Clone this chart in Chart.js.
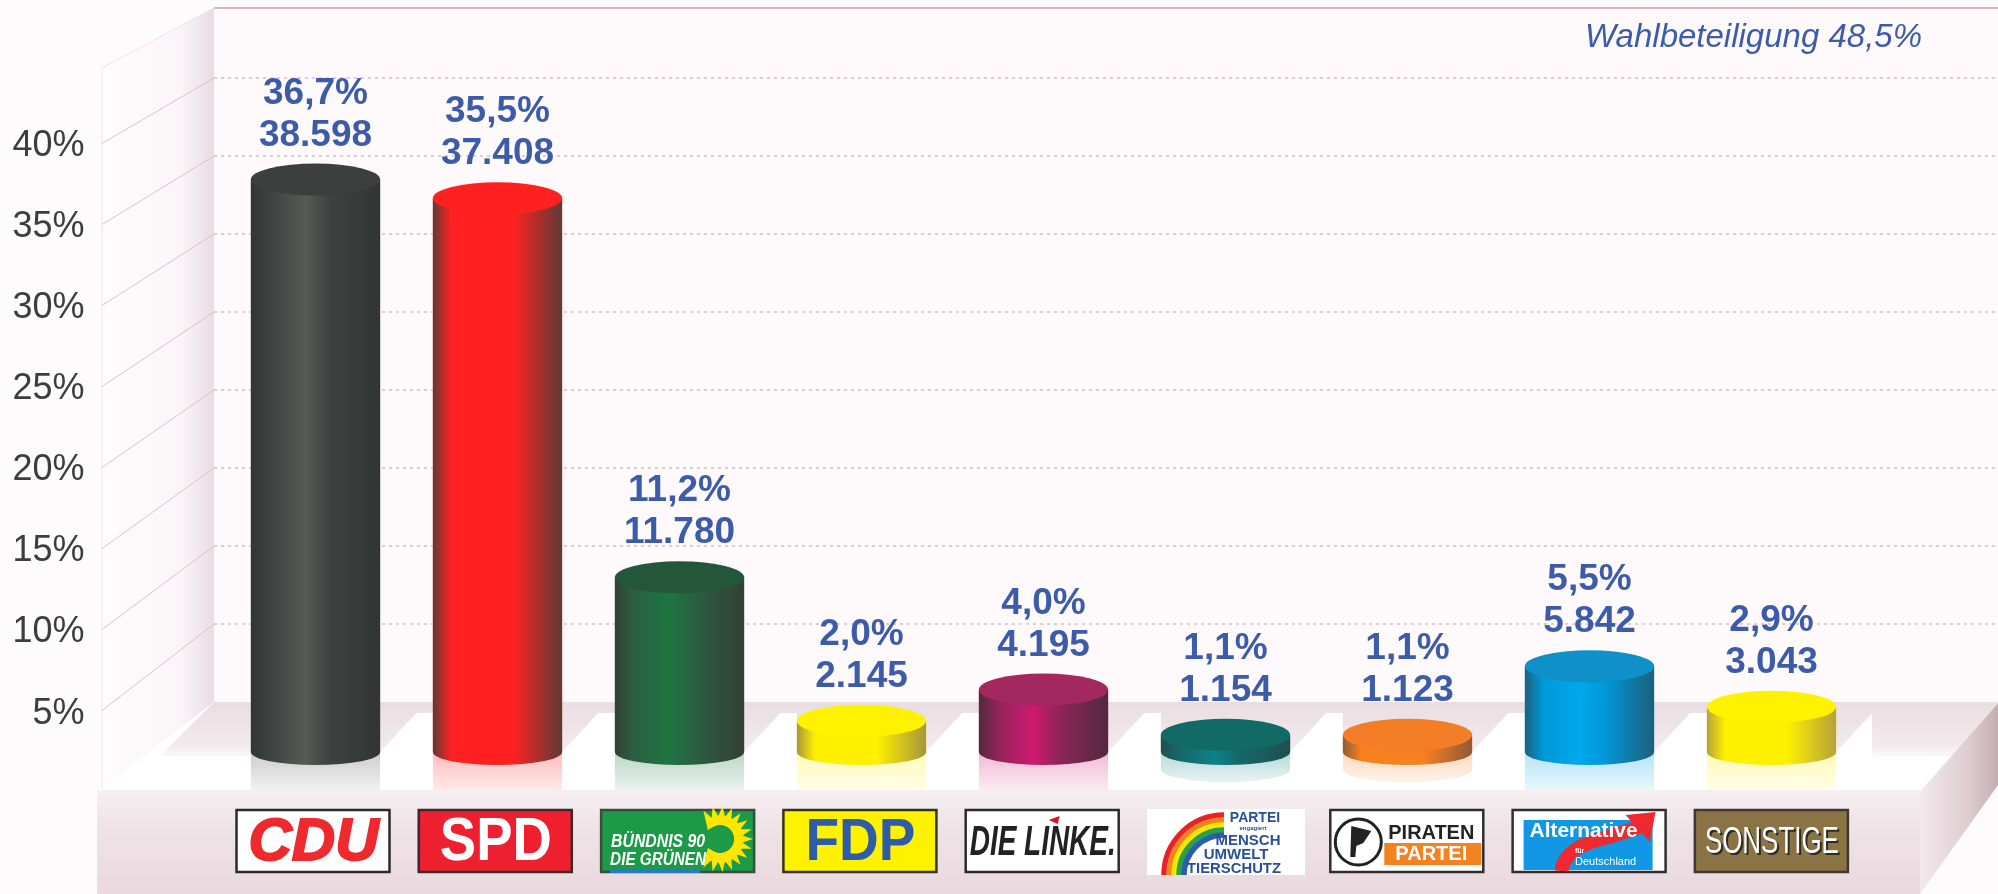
<!DOCTYPE html>
<html lang="de">
<head>
<meta charset="utf-8">
<title>Wahlergebnis</title>
<script src="https://cdn.jsdelivr.net/npm/chart.js@4/dist/chart.umd.min.js"></script>
<style>
html, body { margin: 0; padding: 0; background: #fdfbfc; }
canvas { display: block; }
</style>
</head>
<body>
<canvas id="chart-div" width="1998" height="894"></canvas>
<script>
var parteien = ['CDU', 'SPD', 'GRÜNE', 'FDP', 'DIE LINKE', 'Tierschutz', 'PIRATEN', 'AfD', 'SONSTIGE'];
var anteile = [36.7, 35.5, 11.2, 2.0, 4.0, 1.1, 1.1, 5.5, 2.9];
var stimmen = ['38.598', '37.408', '11.780', '2.145', '4.195', '1.154', '1.123', '5.842', '3.043'];
var yTicks = [5, 10, 15, 20, 25, 30, 35, 40];
var wahlbeteiligung = 'Wahlbeteiligung 48,5%';

// rand, mitte, helle stelle, deckel
var farben = [
    ['#313634', '#565b58', '#3c413f', '#3b3f3d'],
    ['#5f3a36', '#ff1f1f', '#ff2222', '#ff2020'],
    ['#343f38', '#1e7541', '#2a5f41', '#24573a'],
    ['#a8963a', '#fff000', '#fff000', '#fff200'],
    ['#512a3e', '#cf1a70', '#8f2458', '#a2285f'],
    ['#1f4f50', '#0c8288', '#176667', '#126a66'],
    ['#8f5a38', '#f9801e', '#f9801e', '#f47e28'],
    ['#1d607c', '#00a8ec', '#0098d8', '#0f90c8'],
    ['#b5a23c', '#fff000', '#fff000', '#fff200']
];

var blau = '#3c5ba9';

function yWert(skala, wert) {
    return skala.getPixelForValue(wert);
}

function zeichneKulisse(chart) {
    var c = chart.ctx,
        yA = chart.scales.y,
        yB = chart.scales.yBar,
        meta = chart.getDatasetMeta(0),
        g;

    c.save();
    c.fillStyle = '#fdfbfc';
    c.fillRect(0, 0, 1998, 894);

    // Rueckwand
    c.fillStyle = '#fefafc';
    c.fillRect(214, 8, 1784, 694);
    c.strokeStyle = '#d9b4bd';
    c.lineWidth = 2;
    c.beginPath();
    c.moveTo(214, 8);
    c.lineTo(1998, 8);
    c.stroke();

    // Seitenwand
    g = c.createLinearGradient(102, 0, 214, 0);
    g.addColorStop(0, '#fefcfd');
    g.addColorStop(0.7, '#fbf5f8');
    g.addColorStop(1, '#e9dce3');
    c.fillStyle = g;
    c.beginPath();
    c.moveTo(102, 68);
    c.lineTo(214, 8);
    c.lineTo(214, 702);
    c.lineTo(102, 790);
    c.closePath();
    c.fill();
    c.strokeStyle = '#f0e2e8';
    c.lineWidth = 1;
    c.beginPath();
    c.moveTo(102, 68);
    c.lineTo(102, 790);
    c.moveTo(102, 68);
    c.lineTo(214, 8);
    c.stroke();

    // Gitterlinien
    yTicks.forEach(function (v) {
        var hinten = yWert(yB, v) - 50;
        c.strokeStyle = '#dcc0c8';
        c.lineWidth = 1;
        c.setLineDash([]);
        c.beginPath();
        c.moveTo(102, yWert(yA, v) - 3);
        c.lineTo(214, hinten);
        c.stroke();
        c.strokeStyle = '#dcbcc5';
        c.lineWidth = 1.5;
        c.setLineDash([3, 4]);
        c.beginPath();
        c.moveTo(214, hinten);
        c.lineTo(1998, hinten);
        c.stroke();
        c.setLineDash([]);
    });

    // Boden
    c.fillStyle = '#ffffff';
    c.beginPath();
    c.moveTo(214, 702);
    c.lineTo(1998, 702);
    c.lineTo(1920, 792);
    c.lineTo(97, 792);
    c.closePath();
    c.fill();
    g = c.createLinearGradient(0, 702, 0, 756);
    g.addColorStop(0, '#e9dde1');
    g.addColorStop(0.8, '#f2eaec');
    g.addColorStop(1, '#fbf8f9');
    c.fillStyle = g;
    c.beginPath();
    c.moveTo(214, 702);
    c.lineTo(1998, 702);
    c.lineTo(1952, 756);
    c.lineTo(160, 756);
    c.closePath();
    c.fill();
    // helle Keile zwischen den Saeulen
    c.fillStyle = '#ffffff';
    meta.data.forEach(function (bar, i) {
        var rechts = bar.x + bar.width / 2,
            naechste = i < meta.data.length - 1 ? meta.data[i + 1].x - bar.width / 2 : rechts + 36;
        c.beginPath();
        c.moveTo(rechts, 752);
        c.lineTo(rechts + 36, 713);
        c.lineTo(naechste, 713);
        c.lineTo(naechste, 757);
        c.lineTo(rechts, 757);
        c.closePath();
        c.fill();
    });

    // Vorderkante
    g = c.createLinearGradient(0, 790, 0, 894);
    g.addColorStop(0, '#f6eff1');
    g.addColorStop(0.35, '#efe3e7');
    g.addColorStop(1, '#ead9df');
    c.fillStyle = g;
    c.fillRect(97, 790, 1823, 104);

    // rechte Kante
    g = c.createLinearGradient(1920, 0, 1998, 0);
    g.addColorStop(0, '#f3e9ec');
    g.addColorStop(0.6, '#decdd2');
    g.addColorStop(1, '#c4aeb4');
    c.fillStyle = g;
    c.beginPath();
    c.moveTo(1920, 792);
    c.lineTo(1998, 703);
    c.lineTo(1998, 785);
    c.lineTo(1920, 894);
    c.closePath();
    c.fill();

    // Wahlbeteiligung
    c.fillStyle = blau;
    c.font = 'italic 33px "Liberation Sans"';
    c.textAlign = 'right';
    c.textBaseline = 'middle';
    c.fillText(wahlbeteiligung, 1922, 38);
    c.restore();
}

function koerperVerlauf(c, links, rechts, f) {
    var g = c.createLinearGradient(links, 0, rechts, 0);
    g.addColorStop(0, f[0]);
    g.addColorStop(0.14, f[2]);
    g.addColorStop(0.42, f[1]);
    g.addColorStop(0.62, f[2]);
    g.addColorStop(1, f[0]);
    return g;
}

function zeichneSaeulen(chart) {
    var c = chart.ctx,
        meta = chart.getDatasetMeta(0);

    c.save();
    meta.data.forEach(function (bar, i) {
        var f = farben[i],
            rx = bar.width / 2,
            links = bar.x - rx,
            rechts = bar.x + rx,
            hoehe = bar.base - bar.y,
            ruTop = 16,
            ruFuss = 13,
            spiegel = Math.min(hoehe + ruFuss, 790 - bar.base),
            g;

        // Spiegelung auf dem Boden
        g = c.createLinearGradient(0, bar.base, 0, bar.base + spiegel + 4);
        g.addColorStop(0, f[1] + '4d');
        g.addColorStop(1, f[1] + '12');
        c.fillStyle = g;
        c.beginPath();
        c.moveTo(links, bar.base);
        c.lineTo(rechts, bar.base);
        if (hoehe + ruFuss < 790 - bar.base) {
            c.lineTo(rechts, bar.base + hoehe);
            c.ellipse(bar.x, bar.base + hoehe, rx, ruFuss, 0, 0, Math.PI);
        } else {
            c.lineTo(rechts, 790);
            c.lineTo(links, 790);
        }
        c.closePath();
        c.fill();

        // Mantel
        c.fillStyle = koerperVerlauf(c, links, rechts, f);
        c.beginPath();
        c.moveTo(links, bar.y);
        c.lineTo(links, bar.base);
        c.ellipse(bar.x, bar.base, rx, ruFuss, 0, Math.PI, 0, true);
        c.lineTo(rechts, bar.y);
        c.closePath();
        c.fill();

        // Deckel
        c.fillStyle = f[3];
        c.beginPath();
        c.ellipse(bar.x, bar.y, rx, ruTop, 0, 0, Math.PI * 2);
        c.fill();

        // Beschriftung
        c.fillStyle = blau;
        c.font = 'bold 37px "Liberation Sans"';
        c.textAlign = 'center';
        c.textBaseline = 'middle';
        c.fillText(anteile[i].toFixed(1).replace('.', ',') + '%', bar.x, bar.y - 86);
        c.fillText(stimmen[i], bar.x, bar.y - 44);
    });
    c.restore();
}

function schrift(c, text, x, y, font, farbe, breite) {
    c.font = font;
    c.fillStyle = farbe;
    c.fillText(text, x, y, breite);
}

function rahmen(c, fuellung, linie) {
    c.fillStyle = fuellung;
    c.fillRect(0, 0, 155, 64);
    c.strokeStyle = linie;
    c.lineWidth = 2.5;
    c.strokeRect(1, 1, 153, 62);
}

var logos = [
    function (c) {
        rahmen(c, '#ffffff', '#2a2a2a');
        schrift(c, 'CDU', 78, 34, 'italic bold 60px "Liberation Sans"', '#ee2a2e', 136);
        c.strokeStyle = '#ee2a2e';
        c.lineWidth = 2;
        c.strokeText('CDU', 78, 34, 136);
    },
    function (c) {
        rahmen(c, '#ee2030', '#3a2a2a');
        schrift(c, 'SPD', 78, 34, 'bold 62px "Liberation Sans"', '#ffffff', 112);
    },
    function (c) {
        rahmen(c, '#1d9a48', '#3c4a40');
        // Sonnenblume
        c.fillStyle = '#ffe600';
        for (var i = 0; i < 15; i++) {
            var w = -2.1 + i * 0.3;
            c.save();
            c.translate(120, 30);
            c.rotate(w);
            c.beginPath();
            c.moveTo(14, -6);
            c.lineTo(33, 0);
            c.lineTo(14, 6);
            c.closePath();
            c.fill();
            c.restore();
        }
        c.beginPath();
        c.arc(120, 30, 19, -2.1, 2.3);
        c.lineWidth = 9;
        c.strokeStyle = '#ffe600';
        c.stroke();
        schrift(c, 'BÜNDNIS 90', 58, 33, 'italic bold 18px "Liberation Sans"', '#ffffff', 94);
        schrift(c, 'DIE GRÜNEN', 58, 51, 'italic bold 18px "Liberation Sans"', '#ffffff', 96);
        c.fillStyle = '#2a78c8';
        c.fillRect(10, 61, 90, 3);
    },
    function (c) {
        rahmen(c, '#fff200', '#333320');
        schrift(c, 'FDP', 78, 34, 'bold 60px "Liberation Sans"', '#2f5ca8', 110);
    },
    function (c) {
        rahmen(c, '#ffffff', '#2a2a2a');
        schrift(c, 'DIE LINKE.', 78, 34, 'italic bold 42px "Liberation Sans"', '#222222', 146);
        c.fillStyle = '#e30f1f';
        c.beginPath();
        c.moveTo(84, 11);
        c.lineTo(95, 7);
        c.lineTo(93, 15);
        c.closePath();
        c.fill();
    },
    function (c) {
        c.fillStyle = '#ffffff';
        c.fillRect(0, 0, 158, 66);
        ['#e8212a', '#f58220', '#ffe600', '#28a24a', '#2a5db0'].forEach(function (f, i) {
            c.strokeStyle = f;
            c.lineWidth = 5.5;
            c.beginPath();
            c.arc(77, 66, 60 - i * 5, Math.PI, Math.PI * 1.5);
            c.stroke();
        });
        schrift(c, 'PARTEI', 108, 9, 'bold 14px "Liberation Sans"', '#2a4f9a', 54);
        schrift(c, 'engagiert', 106, 19, 'bold 6px "Liberation Sans"', '#2a4f9a', 34);
        schrift(c, 'MENSCH', 101, 32, 'bold 15px "Liberation Sans"', '#2a4f9a', 66);
        schrift(c, 'UMWELT', 89, 46, 'bold 15px "Liberation Sans"', '#2a4f9a', 68);
        schrift(c, 'TIERSCHUTZ', 87, 60, 'bold 15px "Liberation Sans"', '#2a4f9a', 94);
    },
    function (c) {
        rahmen(c, '#ffffff', '#2e2e2e');
        c.fillStyle = '#f58220';
        c.fillRect(55, 34, 97, 22);
        c.fillStyle = '#ffffff';
        c.strokeStyle = '#222222';
        c.lineWidth = 3;
        c.beginPath();
        c.arc(29, 33, 23, 0, Math.PI * 2);
        c.fill();
        c.stroke();
        c.fillStyle = '#222222';
        c.beginPath();
        c.moveTo(22, 17);
        c.lineTo(42, 22);
        c.lineTo(34, 34);
        c.lineTo(27, 37);
        c.lineTo(26, 48);
        c.lineTo(21, 48);
        c.closePath();
        c.fill();
        schrift(c, 'PIRATEN', 102, 24, 'bold 20px "Liberation Sans"', '#222222', 86);
        schrift(c, 'PARTEI', 102, 45, 'bold 20px "Liberation Sans"', '#ffffff', 84);
    },
    function (c) {
        rahmen(c, '#ffffff', '#2e2e2e');
        c.fillStyle = '#1098e4';
        c.fillRect(12, 11, 129, 50);
        c.strokeStyle = '#ee2a30';
        c.lineWidth = 14;
        c.beginPath();
        c.moveTo(50, 62);
        c.quadraticCurveTo(52, 38, 97, 28);
        c.lineTo(128, 18);
        c.stroke();
        c.fillStyle = '#ee2a30';
        c.beginPath();
        c.moveTo(114, 6);
        c.lineTo(144, 3);
        c.lineTo(138, 33);
        c.closePath();
        c.fill();
        schrift(c, 'Alternative', 72, 22, 'bold 21px "Liberation Sans"', '#ffffff', 108);
        schrift(c, 'für', 68, 42, 'bold 7px "Liberation Sans"', '#ffffff', 20);
        schrift(c, 'Deutschland', 94, 53, '11px "Liberation Sans"', '#ffffff', 64);
    },
    function (c) {
        rahmen(c, '#8a7446', '#3c3a30');
        schrift(c, 'SONSTIGE', 80, 36, '36px "Liberation Sans"', '#2e2a22', 134);
        schrift(c, 'SONSTIGE', 78, 34, '36px "Liberation Sans"', '#ffffff', 134);
    }
];

function zeichneLogos(chart) {
    var c = chart.ctx,
        x = chart.scales.x;

    parteien.forEach(function (p, i) {
        c.save();
        c.translate(x.getPixelForTick(i) - 80 + i * 0.3, 809);
        c.textAlign = 'center';
        c.textBaseline = 'middle';
        logos[i](c);
        c.restore();
    });
}

var kulisse = {
    id: 'kulisse',
    beforeDraw: zeichneKulisse,
    afterDatasetsDraw: function (chart) {
        zeichneSaeulen(chart);
        zeichneLogos(chart);
    }
};

var chart = new Chart(document.getElementById('chart-div').getContext('2d'), {
    type: 'bar',
    data: {
        labels: parteien,
        datasets: [{
            data: anteile,
            yAxisID: 'yBar',
            backgroundColor: farben.map(function (f) { return f[1]; }),
            categoryPercentage: 1,
            barPercentage: 0.71
        }]
    },
    options: {
        responsive: false,
        animation: false,
        layout: { padding: { top: 24, right: 135.5 } },
        plugins: {
            legend: { display: false },
            title: { display: false },
            tooltip: { enabled: false }
        },
        scales: {
            x: {
                grid: { display: false },
                border: { display: false },
                ticks: { display: false },
                afterFit: function (s) { s.height = 102; }
            },
            y: {
                position: 'left',
                min: 0.16,
                max: 47.56,
                grid: { display: false },
                border: { display: false },
                afterBuildTicks: function (s) {
                    s.ticks = yTicks.map(function (v) { return { value: v }; });
                },
                ticks: {
                    padding: 132,
                    color: '#3b3e3d',
                    font: { family: '"Liberation Sans"', size: 36 },
                    callback: function (v) { return v + '%'; }
                },
                afterFit: function (s) {
                    // das grosse padding soll nur seitlich wirken
                    s.width = 224.5;
                    s.paddingTop = 0;
                    s.paddingBottom = 0;
                }
            },
            yBar: {
                display: false,
                min: -2.564,
                max: 46.667
            }
        }
    },
    plugins: [kulisse]
});
</script>
</body>
</html>
